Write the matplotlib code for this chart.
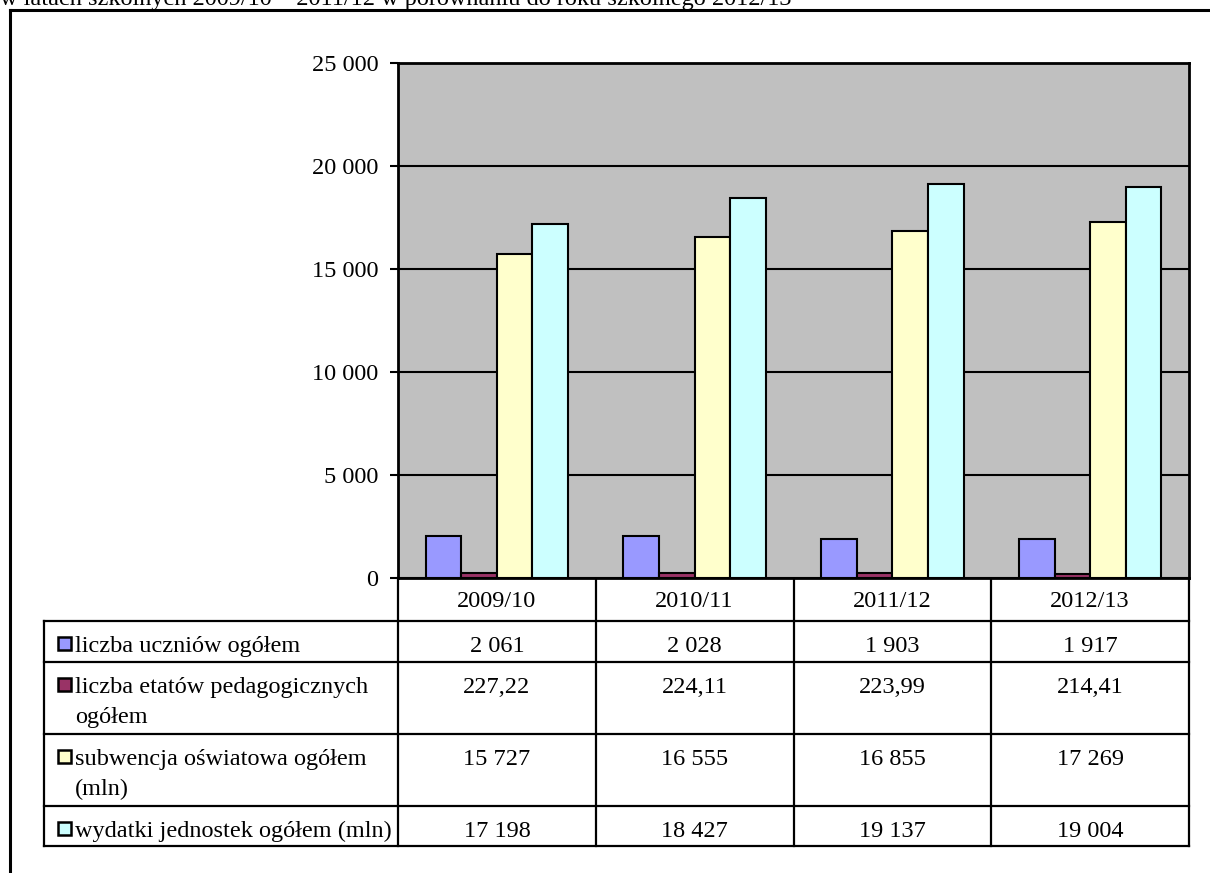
import numpy as np
import matplotlib
matplotlib.use('Agg')
import matplotlib.pyplot as plt
from matplotlib.patches import Rectangle

plt.rcParams['font.family'] = ['Liberation Serif', 'DejaVu Serif']

# data
years = ['2009/10', '2010/11', '2011/12', '2012/13']
uczniowie = [2061, 2028, 1903, 1917]
etaty = [227.22, 224.11, 223.99, 214.41]
subwencja = [15727, 16555, 16855, 17269]
wydatki = [17198, 18427, 19137, 19004]

series_names = [['liczba uczniów ogółem'],
                ['liczba etatów pedagogicznych', 'ogółem'],
                ['subwencja oświatowa ogółem', '(mln)'],
                ['wydatki jednostek ogółem (mln)']]
series = [uczniowie, etaty, subwencja, wydatki]
colors = ['#9999FF', '#993366', '#FFFFCC', '#CCFFFF']
title = 'w latach szkolnych 2009/10 – 2011/12 w porównaniu do roku szkolnego 2012/13'

W, H = 1210, 873
FS = 17.5


def fmt(v):
    # polish number style: space for thousands, comma for decimals
    if float(v).is_integer():
        return f'{v:,.0f}'.replace(',', ' ')
    return f'{v:.2f}'.replace('.', ',')


fig = plt.figure(figsize=(W / 100, H / 100), dpi=100)

# plot area in pixels
left, right, top, bottom = 398, 1189, 63, 578
ax = fig.add_axes([left / W, 1 - bottom / H, (right - left) / W, (bottom - top) / H])
ax.set_facecolor('#C0C0C0')

x = np.arange(len(years))
width = 0.18
offsets = (np.arange(len(series)) - 1.5) * width
for i, vals in enumerate(series):
    ax.bar(x + offsets[i], vals, width, color=colors[i], edgecolor='black',
           linewidth=1.5, zorder=3)

ax.set_xlim(-0.5, len(years) - 0.5)
ax.set_ylim(0, 25000)
yt = np.arange(0, 25001, 5000)
ax.set_yticks(yt)
ax.set_yticklabels([fmt(v) for v in yt], fontsize=FS)
ax.set_xticks([])
ax.yaxis.grid(True, color='black', linewidth=1.5)
ax.set_axisbelow(True)
ax.tick_params(axis='y', direction='out', length=6, width=1.5, pad=8)
for s in ax.spines.values():
    s.set_linewidth(2)

# overlay in pixel coords for frame and data table
ov = fig.add_axes([0, 0, 1, 1], zorder=-1)
ov.set_xlim(0, W)
ov.set_ylim(H, 0)
ov.axis('off')

ov.text(0, 5, title, fontsize=FS, ha='left', va='baseline')
ov.plot([10, 10], [10, H], color='black', lw=2.2)
ov.plot([10, W], [10, 10], color='black', lw=2.2)

col_w = (right - left) / len(years)
tab_left = 44
rows = [621, 662, 734, 806, 846]
lw = 1.6

for k in range(len(years) + 1):
    xx = left + k * col_w
    ov.plot([xx, xx], [bottom, rows[-1]], color='black', lw=lw)
ov.plot([tab_left, tab_left], [rows[0], rows[-1]], color='black', lw=lw)
for yy in rows:
    ov.plot([tab_left, right], [yy, yy], color='black', lw=lw)

for k, yr in enumerate(years):
    ov.text(left + (k + 0.5) * col_w, 607, yr,
            fontsize=FS, ha='center', va='baseline')

for i, vals in enumerate(series):
    rt = rows[i]
    ov.add_patch(Rectangle((58, rt + 16), 13, 13, facecolor=colors[i],
                           edgecolor='black', lw=1.8))
    for j, line in enumerate(series_names[i]):
        ov.text(75, rt + 31 + 30 * j, line, fontsize=FS, ha='left',
                va='baseline')
    for k, v in enumerate(vals):
        ov.text(left + (k + 0.5) * col_w, rt + 31, fmt(v), fontsize=FS,
                ha='center', va='baseline')

fig.savefig('out.png', dpi=100)
